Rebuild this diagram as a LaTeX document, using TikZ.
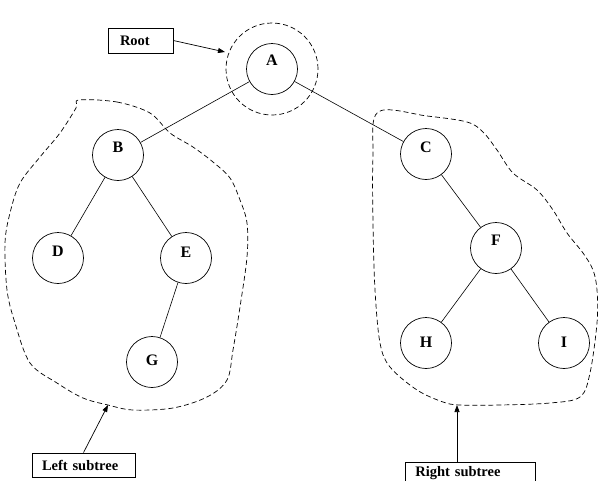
\documentclass[tikz,border=0pt]{standalone}
\usepackage{fontspec}
\setmainfont{Liberation Serif}
\usetikzlibrary{arrows.meta}
\begin{document}
\begin{tikzpicture}[x=1pt,y=-1pt,
  vtx/.style={draw,circle,minimum size=51pt,inner sep=0pt,line width=0.7pt},
  lab/.style={font=\fontsize{16}{18}\selectfont\bfseries,inner sep=0pt},
  tag/.style={draw,line width=0.8pt,font=\fontsize{14.5}{17}\selectfont\bfseries,inner ysep=0pt,align=left},
  edge/.style={line width=0.6pt},
  blob/.style={line width=0.7pt,dash pattern=on 5pt off 3pt},
  pointer/.style={line width=0.7pt,-{Triangle[length=7pt,width=5pt]}}
]
\useasboundingbox[fill=white] (0,0) rectangle (600,480);

% nodes
\node[vtx,label={[lab,yshift=9pt]center:A}] (A) at (272,69) {};
\node[vtx,label={[lab,yshift=8pt]center:B}] (B) at (118,155) {};
\node[vtx,label={[lab,yshift=7pt]center:C}] (C) at (426,154) {};
\node[vtx,label={[lab,yshift=7pt]center:D}] (D) at (58,258) {};
\node[vtx,label={[lab,yshift=6pt]center:E}] (E) at (186,258) {};
\node[vtx,label={[lab,yshift=8pt]center:F}] (F) at (496,248) {};
\node[vtx,label={[lab,yshift=2pt]center:G}] (G) at (152,362) {};
\node[vtx,label={[lab,yshift=1pt]center:H}] (H) at (426,343) {};
\node[vtx,label={[lab,yshift=1pt]center:I}] (I) at (564,343) {};

% dashed circle around root
\draw[blob] (A.center) circle[radius=46pt];

% edges
\draw[edge] (A) -- (B);
\draw[edge] (A) -- (C);
\draw[edge] (B) -- (D);
\draw[edge] (B) -- (E);
\draw[edge] (E) -- (G);
\draw[edge] (C) -- (F);
\draw[edge] (F) -- (H);
\draw[edge] (F) -- (I);

% subtree outlines
\draw[blob] plot[smooth cycle,tension=0.55] coordinates {
  (79,100) (117,102) (150,113) (170,133) (193,147) (213,162) (230,178)
  (240,200) (247,223) (247,257) (240,307) (233,350) (227,380) (207,397)
  (173,408) (133,410) (108,405) (83,398) (57,383) (30,363) (15,323)
  (7,290) (5,243) (10,213) (20,183) (40,157) (60,133) (76,108)};
\draw[blob] plot[smooth cycle,tension=0.55] coordinates {
  (378,112) (427,116) (467,122) (483,132) (497,150) (513,173) (537,190)
  (553,210) (567,233) (583,253) (593,270) (597,290) (597,323) (590,373)
  (580,397) (550,403) (500,405) (460,405) (443,402) (417,390) (390,367)
  (380,343) (375,290) (373,223) (373,157)};

% tip points on outlines
\coordinate (rootTip) at (225,52);
\coordinate (lt) at (108,405);
\coordinate (rt) at (457,405);

% tags
\node[tag,minimum height=25pt,text width=41pt,inner xsep=12pt] (rootbox) at (140.5,40.5) {Root};
\node[tag,minimum height=24pt,text width=83pt,inner xsep=10pt] (lbox) at (83.5,465) {Left subtree};
\node[tag,minimum height=22pt,text width=110pt,inner xsep=10pt,anchor=north west] (rbox) at (405,462) {Right subtree};

% pointers
\draw[pointer] (rootbox.east) -- (rootTip);
\draw[pointer] (lbox.north) -- (lt);
\draw[pointer] (rt |- rbox.north) -- (rt);
\end{tikzpicture}
\end{document}
